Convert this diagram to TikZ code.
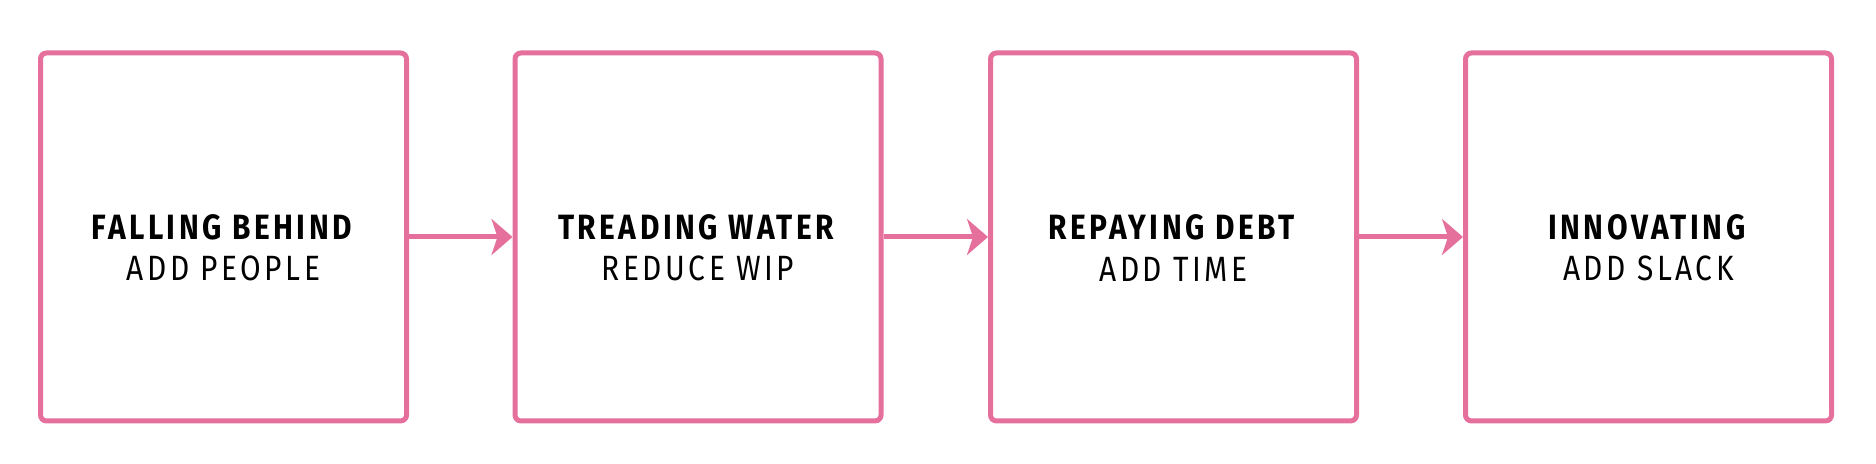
\documentclass[tikz,border=0pt]{standalone}
\usepackage{fontspec}
\setmainfont{Fira Sans}[FakeStretch=0.85, LetterSpace=10]
\usetikzlibrary{arrows.meta}
\definecolor{boxpink}{RGB}{229,112,156}

\begin{document}
\begin{tikzpicture}[draw=boxpink]
	\tikzstyle{box}=[draw=boxpink, fill=white, line width=0.1cm, rounded corners=0.12cm, minimum width=7.32cm, minimum height=7.36cm]
	\tikzstyle{caption}=[align=center, yshift=-0.22cm, font=\fontsize{20}{23.5}\selectfont]
	\tikzstyle{link}=[-{Stealth[length=0.42cm, width=0.72cm, inset=0.12cm]}, line width=0.1cm, draw=boxpink]
	\useasboundingbox (0,0) rectangle (37.52,9.28);

	% Draw the stages
	\node[box, label={[caption]center:{\textbf{FALLING BEHIND}\\ADD PEOPLE}}] (behind) at (4.47,4.54) {};
	\node[box, label={[caption]center:{\textbf{TREADING WATER}\\REDUCE WIP}}] (water) at (13.96,4.54) {};
	\node[box, label={[caption]center:{\textbf{REPAYING DEBT}\\ADD TIME}}] (debt) at (23.47,4.54) {};
	\node[box, label={[caption]center:{\textbf{INNOVATING}\\ADD SLACK}}] (innov) at (32.97,4.54) {};

	% Draw arrows
	\path[link] (behind) edge (water);
	\path[link] (water) edge (debt);
	\path[link] (debt) edge (innov);
\end{tikzpicture}
\end{document}
